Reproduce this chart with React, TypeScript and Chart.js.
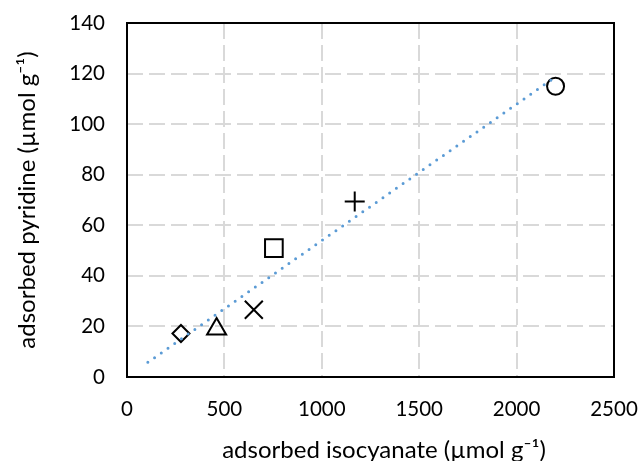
import React, { useEffect, useRef } from 'react';
import { Chart, registerables } from 'chart.js';

Chart.register(...registerables);

// ---- data ----
const isocyanate = [277, 460, 651, 754, 1169, 2200];
const pyridine = [17.2, 19, 26.6, 51, 69.4, 115];
const markerStyles = ['rectRot', 'triangle', 'crossRot', 'rect', 'cross', 'circle'];
const markerRadii = [8.5, 11, 12.7, 12.5, 10, 8.5];

const trendX = [107, 2200];
const trendY = [5.8, 118.7];

const xMin = 0;
const xMax = 2500;
const xStep = 500;
const yMin = 0;
const yMax = 140;
const yStep = 20;

const xTitle = 'adsorbed isocyanate (µmol g⁻¹)';
const yTitle = 'adsorbed pyridine (µmol g⁻¹)';

const FONT = 'Lato, "Open Sans", sans-serif';

export default function App() {
  const ref = useRef<HTMLCanvasElement | null>(null);

  useEffect(() => {
    document.body.style.margin = '0';
    const canvas = ref.current;
    if (!canvas) return;

    const frame = {
      id: 'plotFrame',
      beforeDatasetsDraw(chart: any) {
        const { ctx, chartArea: a } = chart;
        ctx.save();
        ctx.strokeStyle = '#000';
        ctx.lineWidth = 2;
        ctx.strokeRect(a.left, a.top, a.right - a.left, a.bottom - a.top);
        ctx.restore();
      },
      afterDraw(chart: any) {
        const { ctx } = chart;
        ctx.save();
        ctx.fillStyle = '#000';
        ctx.font = '24px ' + FONT;
        ctx.textAlign = 'center';
        ctx.textBaseline = 'alphabetic';
        ctx.fillText(xTitle, 384, 458);
        ctx.restore();
      },
    };

    const chart = new Chart(canvas, {
      type: 'scatter',
      data: {
        datasets: [
          {
            type: 'line',
            label: 'trend',
            data: trendX.map((x, i) => ({ x, y: trendY[i] })),
            borderColor: '#5B9BD5',
            borderWidth: 3,
            borderDash: [0, 8.2],
            borderCapStyle: 'round',
            pointRadius: 0,
            fill: false,
            tension: 0,
            order: 0,
          } as any,
          {
            label: 'samples',
            data: isocyanate.map((x, i) => ({ x, y: pyridine[i] })),
            pointStyle: markerStyles as any,
            pointRadius: markerRadii,
            pointBorderColor: '#000',
            pointBackgroundColor: 'rgba(0,0,0,0)',
            pointBorderWidth: 2,
            order: 1,
          },
        ],
      },
      options: {
        animation: false,
        responsive: false,
        devicePixelRatio: 1,
        layout: { padding: { left: 0, right: 26, top: 23, bottom: 0 } },
        plugins: {
          legend: { display: false },
          tooltip: { enabled: false },
        },
        scales: {
          x: {
            type: 'linear',
            min: xMin,
            max: xMax,
            ticks: {
              stepSize: xStep,
              color: '#000',
              font: { family: FONT, size: 20.5 },
              padding: 20,
              maxRotation: 0,
              callback: (v: any) => String(v),
            },
            grid: { color: '#D9D9D9', lineWidth: 2, drawTicks: false },
            border: { display: false, dash: [16, 6] },
            afterFit(scale: any) {
              scale.height = 84;
              scale.paddingLeft = 0;
              scale.paddingRight = 0;
            },
          },
          y: {
            type: 'linear',
            min: yMin,
            max: yMax,
            ticks: {
              stepSize: yStep,
              color: '#000',
              font: { family: FONT, size: 20.5 },
              padding: 22,
              callback: (v: any) => String(v),
            },
            grid: { color: '#D9D9D9', lineWidth: 2, drawTicks: false },
            border: { display: false, dash: [16, 6] },
            title: {
              display: true,
              text: yTitle,
              color: '#000',
              font: { family: FONT, size: 24, lineHeight: 1 },
              padding: { top: 15.5, bottom: 0 },
            },
            afterFit(scale: any) {
              scale.width = 127;
              scale.paddingTop = 0;
              scale.paddingBottom = 0;
            },
          },
        },
      },
      plugins: [frame],
    });

    return () => chart.destroy();
  }, []);

  return (
    <div style={{ position: 'fixed', left: 0, top: 0, width: 640, height: 461, background: '#fff' }}>
      <canvas ref={ref} width={640} height={461} style={{ display: 'block', width: 640, height: 461 }} />
    </div>
  );
}
